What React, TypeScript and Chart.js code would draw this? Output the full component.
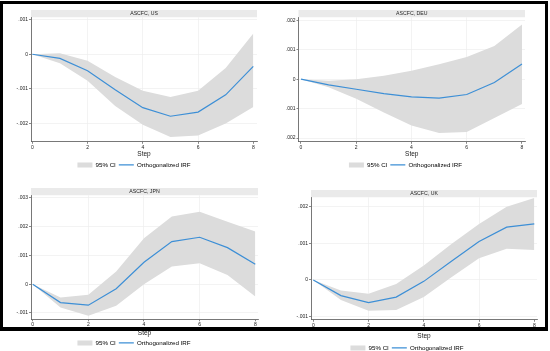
import React, { useEffect, useRef } from 'react';
import { Chart, registerables } from 'chart.js';

Chart.register(...registerables);

// ---------- data ----------
const STEPS = [0, 1, 2, 3, 4, 5, 6, 7, 8];
const X_TICKS = [0, 2, 4, 6, 8];
const X_TITLE = 'Step';
const LEGEND_LABELS = ['95% CI', 'Orthogonalized IRF'];
const PANEL_TITLES = ['ASCFC, US', 'ASCFC, DEU', 'ASCFC, JPN', 'ASCFC, UK'];

const US_IRF = [0, -0.00012, -0.00048, -0.00103, -0.00155, -0.0018, -0.00168, -0.00118, -0.00035];
const US_LO = [0, -0.00026, -0.00077, -0.0015, -0.00205, -0.0024, -0.00236, -0.00201, -0.00153];
const US_HI = [0, 0.00003, -0.00019, -0.00066, -0.00106, -0.00124, -0.00106, -0.0004, 0.0006];
const US_TICKS = [0.001, 0, -0.001, -0.002];

const DEU_IRF = [0, -0.00019, -0.00034, -0.00049, -0.0006, -0.00064, -0.00052, -0.00011, 0.00052];
const DEU_LO = [0, -0.00027, -0.00066, -0.00113, -0.00157, -0.00183, -0.00179, -0.00132, -0.00084];
const DEU_HI = [0, -0.00005, 0, 0.00012, 0.00029, 0.00051, 0.00075, 0.00113, 0.00186];
const DEU_TICKS = [0.002, 0.001, 0, -0.001, -0.002];

const JPN_IRF = [0, -0.00064, -0.00073, -0.00016, 0.00076, 0.00148, 0.00163, 0.00127, 0.00069];
const JPN_LO = [0, -0.00081, -0.0011, -0.00075, 0, 0.00061, 0.00073, 0.00032, -0.00043];
const JPN_HI = [0, -0.00046, -0.00037, 0.00044, 0.0016, 0.00235, 0.00252, 0.00217, 0.00183];
const JPN_TICKS = [0.003, 0.002, 0.001, 0, -0.001];

const UK_IRF = [0, -0.00043, -0.00062, -0.00047, -0.00004, 0.00051, 0.00105, 0.00144, 0.00153];
const UK_LO = [0, -0.00055, -0.00084, -0.00082, -0.00047, 0.00007, 0.00059, 0.00085, 0.00082];
const UK_HI = [0, -0.00029, -0.00038, -0.00011, 0.00039, 0.00098, 0.00153, 0.002, 0.00224];
const UK_TICKS = [0.002, 0.001, 0, -0.001];

// ---------- styles / layout ----------
const FONT = 'Liberation Sans, Arial, Helvetica, sans-serif';
const BLUE = '#3d8fd6';
const BAND = '#dcdcdc';
const STRIP = '#eaeaea';
const TEXT = '#222222';
const AXIS = '#555555';
const GRID = '#eeeeee';

const SERIES = [
  { irf: US_IRF, lo: US_LO, hi: US_HI, ticks: US_TICKS },
  { irf: DEU_IRF, lo: DEU_LO, hi: DEU_HI, ticks: DEU_TICKS },
  { irf: JPN_IRF, lo: JPN_LO, hi: JPN_HI, ticks: JPN_TICKS },
  { irf: UK_IRF, lo: UK_LO, hi: UK_HI, ticks: UK_TICKS },
];

const LAYOUT = [
  { left: 0, top: 0, width: 275, height: 178, padTop: 10, padLeft: 11, padRight: 18, yW: 20, xH: 17, stepPad: 1.1, yMin: -0.002542, yMax: 0.001074, xMin: -0.047, xMax: 8.134 },
  { left: 275, top: 0, width: 275, height: 178, padTop: 10, padLeft: 11, padRight: 25, yW: 12.5, xH: 17, stepPad: 1.1, yMin: -0.002125, yMax: 0.002104, xMin: -0.09, xMax: 8.109 },
  { left: 0, top: 178, width: 275, height: 178, padTop: 10, padLeft: 10, padRight: 17, yW: 21, xH: 17.5, stepPad: 0.1, yMin: -0.00122, yMax: 0.00309, xMin: -0.061, xMax: 8.097 },
  { left: 275, top: 178, width: 275, height: 183, padTop: 12, padLeft: 2, padRight: 13, yW: 34, xH: 22, stepPad: 2.1, yMin: -0.00109, yMax: 0.002258, xMin: -0.083, xMax: 8.098 },
];

const fmt = (v: number) => {
  if (Math.abs(v) < 1e-12) return '0';
  return (v < 0 ? '-' : '') + Math.abs(v).toFixed(3).replace(/^0/, '');
};

const stripPlugin = {
  id: 'stataStrip',
  beforeDraw(chart: any) {
    const tb = chart.titleBlock;
    const ca = chart.chartArea;
    if (!tb || !ca) return;
    const ctx = chart.ctx;
    ctx.save();
    ctx.fillStyle = STRIP;
    ctx.fillRect(ca.left, tb.top, ca.right - ca.left, tb.bottom - tb.top);
    ctx.restore();
  },
};

function Panel({ index }: { index: number }) {
  const ref = useRef<HTMLCanvasElement | null>(null);
  const s = SERIES[index];
  const L = LAYOUT[index];

  useEffect(() => {
    if (!ref.current) return;
    const pts = (arr: number[]) => STEPS.map((x, i) => ({ x, y: arr[i] }));
    const chart = new Chart(ref.current, {
      type: 'line',
      data: {
        datasets: [
          {
            label: LEGEND_LABELS[1],
            data: pts(s.irf),
            borderColor: BLUE,
            borderWidth: 1.2,
            pointRadius: 0,
            fill: false,
            tension: 0,
          },
          {
            label: 'upper',
            data: pts(s.hi),
            borderColor: 'rgba(0,0,0,0)',
            borderWidth: 0,
            pointRadius: 0,
            backgroundColor: BAND,
            fill: '+1',
            tension: 0,
          },
          {
            label: 'lower',
            data: pts(s.lo),
            borderColor: 'rgba(0,0,0,0)',
            borderWidth: 0,
            pointRadius: 0,
            fill: false,
            tension: 0,
          },
        ],
      },
      options: {
        responsive: false,
        animation: false,
        devicePixelRatio: 1,
        layout: { padding: { top: L.padTop, right: L.padRight, left: L.padLeft, bottom: 0 } },
        scales: {
          x: {
            type: 'linear',
            min: L.xMin,
            max: L.xMax,
            afterBuildTicks: (a: any) => {
              a.ticks = X_TICKS.map((v) => ({ value: v }));
            },
            afterFit: (sc: any) => {
              sc.height = L.xH;
            },
            ticks: {
              font: { size: 5, family: FONT },
              color: TEXT,
              padding: 0.5,
              maxRotation: 0,
              autoSkip: false,
              callback: (v: any) => String(v),
            },
            grid: {
              color: (c: any) => (c.tick && c.tick.value > 0 && c.tick.value < 8 ? GRID : 'rgba(0,0,0,0)'),
              lineWidth: 0.7,
              drawTicks: true,
              tickLength: 2,
              tickColor: AXIS,
              tickWidth: 0.7,
            },
            border: { display: true, color: AXIS, width: 0.8 },
            title: {
              display: true,
              text: X_TITLE,
              font: { size: 6.5, family: FONT },
              color: TEXT,
              padding: { top: 0, bottom: L.stepPad },
            },
          },
          y: {
            type: 'linear',
            min: L.yMin,
            max: L.yMax,
            afterBuildTicks: (a: any) => {
              a.ticks = s.ticks.map((v) => ({ value: v }));
            },
            afterFit: (sc: any) => {
              sc.width = L.yW;
            },
            ticks: {
              font: { size: 5, family: FONT },
              color: TEXT,
              padding: 1,
              autoSkip: false,
              callback: (v: any) => fmt(Number(v)),
            },
            grid: {
              color: GRID,
              lineWidth: 0.7,
              drawTicks: true,
              tickLength: 2,
              tickColor: AXIS,
              tickWidth: 0.7,
            },
            border: { display: true, color: AXIS, width: 0.8 },
          },
        },
        plugins: {
          tooltip: { enabled: false },
          title: {
            display: true,
            text: PANEL_TITLES[index],
            position: 'top',
            fullSize: false,
            font: { size: 5.2, family: FONT, weight: 'normal' },
            color: TEXT,
            padding: { top: 0.5, bottom: 0.5 },
          },
          legend: {
            display: true,
            position: 'bottom',
            labels: {
              usePointStyle: true,
              pointStyleWidth: 15,
              boxHeight: 5,
              padding: 3,
              font: { size: 6.2, family: FONT },
              color: TEXT,
              generateLabels: () => [
                { text: LEGEND_LABELS[0], fillStyle: BAND, strokeStyle: BAND, lineWidth: 0, pointStyle: 'rect', hidden: false, datasetIndex: 1 },
                { text: LEGEND_LABELS[1], fillStyle: BLUE, strokeStyle: BLUE, lineWidth: 1.2, pointStyle: 'line', hidden: false, datasetIndex: 0 },
              ],
            },
          },
        },
      } as any,
      plugins: [stripPlugin],
    });
    return () => chart.destroy();
  }, []);

  return (
    <canvas
      ref={ref}
      width={L.width}
      height={L.height}
      style={{ position: 'absolute', left: L.left, top: L.top, width: L.width, height: L.height }}
    />
  );
}

export default function App() {
  return (
    <div
      style={{
        position: 'absolute',
        left: 0,
        top: 0,
        width: 550,
        height: 351,
        overflow: 'hidden',
        background: '#ffffff',
      }}
    >
      {[0, 1, 2, 3].map((i) => (
        <Panel key={i} index={i} />
      ))}
      <div
        style={{
          position: 'absolute',
          left: 0,
          top: 1,
          width: 548,
          height: 330,
          boxSizing: 'border-box',
          borderStyle: 'solid',
          borderColor: '#000',
          borderWidth: '3px 3px 4px 3px',
          pointerEvents: 'none',
        }}
      />
    </div>
  );
}
